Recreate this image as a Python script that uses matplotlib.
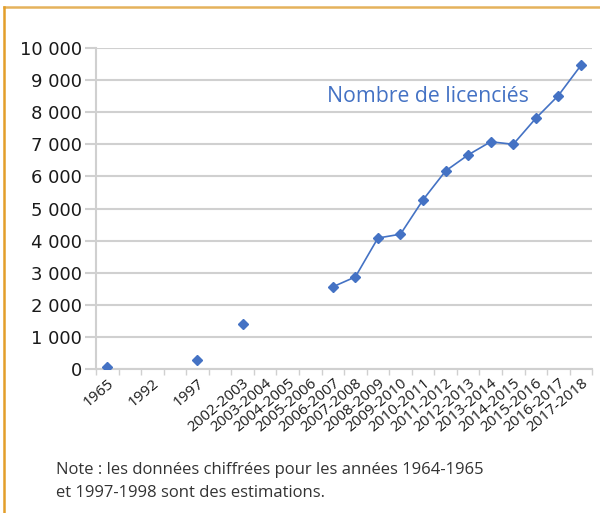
import numpy as np
import matplotlib.pyplot as plt
from matplotlib.lines import Line2D

# categories on the x axis (blank slots kept as in the original)
categories = ["1965", "", "1992", "", "1997", "", "2002-2003", "2003-2004",
              "2004-2005", "2005-2006", "2006-2007", "2007-2008", "2008-2009",
              "2009-2010", "2010-2011", "2011-2012", "2012-2013", "2013-2014",
              "2014-2015", "2015-2016", "2016-2017", "2017-2018"]
licencies = [50, np.nan, np.nan, np.nan, 270, np.nan, 1390, np.nan,
             np.nan, np.nan, 2560, 2870, 4080, 4200, 5270, 6170,
             6670, 7080, 7000, 7810, 8520, 9460]
yticks = [0, 1000, 2000, 3000, 4000, 5000, 6000, 7000, 8000, 9000, 10000]
ytick_labels = ["0", "1 000", "2 000", "3 000", "4 000", "5 000", "6 000",
                "7 000", "8 000", "9 000", "10 000"]

blue = "#4472C4"
grid = "#D0D0D0"

plt.rcParams['font.family'] = ['Open Sans', 'DejaVu Sans']

fig = plt.figure(figsize=(6, 5.13), dpi=100)
ax = fig.add_axes([0.16, 0.2807, 0.827, 0.6257])

x = np.arange(len(categories))
y = np.array(licencies, dtype=float)
ax.plot(x, y, color=blue, lw=1.2, marker='D', ms=5, mec=blue, mfc=blue, zorder=3)

ax.set_xlim(-0.5, len(categories) - 0.5)
ax.set_ylim(0, 10000)
ax.set_yticks(yticks)
ax.set_yticklabels(ytick_labels, fontsize=13, color="#1a1a1a", family='DejaVu Sans')
ax.set_xticks(x)
ax.set_xticklabels(categories, rotation=40, ha='right', rotation_mode='anchor',
                   fontsize=11, color="#1a1a1a")
ax.set_xticks(np.arange(len(categories) + 1) - 0.5, minor=True)
ax.tick_params(axis='x', which='major', length=0, pad=5)
ax.tick_params(axis='x', which='minor', length=4, color=grid, width=1)
ax.tick_params(axis='y', length=8, color=grid, width=1.5, pad=2)

ax.yaxis.grid(True, color=grid, lw=1.5)
ax.set_axisbelow(True)
for s in ['top', 'right']:
    ax.spines[s].set_visible(False)
ax.spines['left'].set_color(grid)
ax.spines['left'].set_linewidth(1.5)
ax.spines['bottom'].set_color(grid)
ax.spines['bottom'].set_linewidth(1.5)

ax.text(9.74, 8500, "Nombre de licenciés", color=blue, fontsize=15.3,
        va='center', ha='left')

fig.text(56 / 600, 1 - 470 / 513, "Note : les données chiffrées pour les années 1964-1965",
         fontsize=12, color="#333333", va='center')
fig.text(56 / 600, 1 - 493 / 513, "et 1997-1998 sont des estimations.",
         fontsize=12, color="#333333", va='center')

# frame lines (top and left)
fig.add_artist(Line2D([4 / 600, 1], [1 - 7 / 513, 1 - 7 / 513], color="#E5B25C", lw=1.8,
                      transform=fig.transFigure))
fig.add_artist(Line2D([4 / 600, 4 / 600], [0, 1 - 7 / 513], color="#E39E2A", lw=1.8,
                      transform=fig.transFigure))

fig.savefig("out.png", dpi=100)
